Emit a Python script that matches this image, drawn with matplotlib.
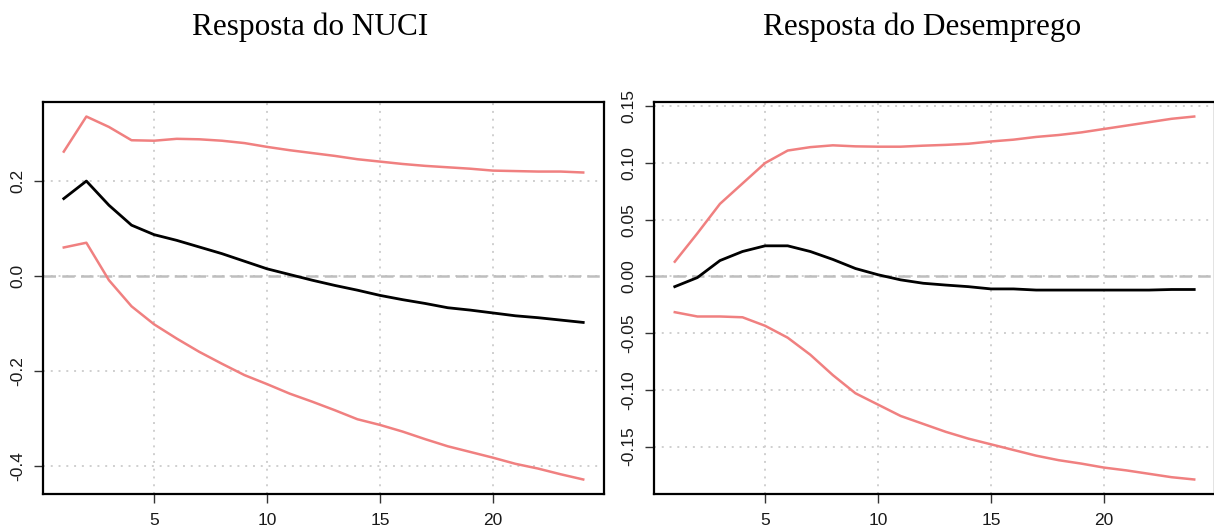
import numpy
import matplotlib
matplotlib.use("Agg")
import matplotlib.pyplot as plt

# horizonte (meses)
steps = numpy.arange(1, 25)

# resposta do NUCI
nuci_irf = [0.163, 0.200, 0.149, 0.107, 0.087, 0.075, 0.061, 0.047, 0.031, 0.015,
            0.003, -0.009, -0.020, -0.030, -0.041, -0.050, -0.058, -0.067, -0.072, -0.078,
            -0.084, -0.088, -0.093, -0.098]
nuci_upper = [0.262, 0.336, 0.314, 0.286, 0.285, 0.289, 0.288, 0.285, 0.280, 0.272,
              0.265, 0.259, 0.253, 0.246, 0.241, 0.236, 0.232, 0.229, 0.226, 0.222,
              0.221, 0.220, 0.220, 0.218]
nuci_lower = [0.060, 0.070, -0.009, -0.064, -0.102, -0.132, -0.160, -0.185, -0.209, -0.228,
              -0.248, -0.265, -0.283, -0.302, -0.314, -0.328, -0.344, -0.359, -0.371, -0.383,
              -0.396, -0.406, -0.418, -0.429]

# resposta do desemprego
desemp_irf = [-0.009, -0.001, 0.014, 0.022, 0.027, 0.027, 0.022, 0.015, 0.007, 0.0015,
              -0.003, -0.006, -0.0076, -0.009, -0.011, -0.011, -0.012, -0.012, -0.012, -0.012,
              -0.012, -0.012, -0.0115, -0.0115]
desemp_upper = [0.013, 0.038, 0.064, 0.082, 0.100, 0.111, 0.114, 0.1156, 0.1147, 0.1144,
                0.1144, 0.1153, 0.116, 0.117, 0.119, 0.1206, 0.123, 0.1247, 0.127, 0.130,
                0.133, 0.136, 0.139, 0.141]
desemp_lower = [-0.0315, -0.0353, -0.0353, -0.036, -0.0435, -0.054, -0.069, -0.087, -0.103, -0.113,
                -0.123, -0.130, -0.137, -0.143, -0.148, -0.153, -0.158, -0.162, -0.165, -0.1685,
                -0.171, -0.174, -0.177, -0.179]

x_ticks = [5, 10, 15, 20]
nuci_yticks = [-0.4, -0.2, 0.0, 0.2]
nuci_ylabels = ["-0.4", "-0.2", "0.0", "0.2"]
desemp_yticks = [-0.15, -0.10, -0.05, 0.00, 0.05, 0.10, 0.15]
desemp_ylabels = ["-0.15", "-0.10", "-0.05", "0.00", "0.05", "0.10", "0.15"]

W, H = 1214, 532


def r_range(values):
    # mesma extensao de 4% que o R usa por padrao
    lo, hi = min(values), max(values)
    d = (hi - lo) * 0.04
    return lo - d, hi + d


def draw_panel(ax, irf, upper, lower, yticks, ylabels):
    ax.plot(steps, upper, color="#f08080", lw=1.8)
    ax.plot(steps, lower, color="#f08080", lw=1.8)
    ax.plot(steps, irf, color="black", lw=2.0)
    ax.axhline(y=0, color="#bebebe", lw=1.8, ls=(0, (5, 2.5)), zorder=1.5)

    ax.set_xlim(r_range(steps))
    ax.set_ylim(r_range(list(upper) + list(lower) + list(irf)))
    ax.set_xticks(x_ticks)
    ax.set_yticks(yticks)
    ax.set_yticklabels(ylabels, rotation=90, va="center")

    ax.grid(True, color="#cfcfcf", lw=1.4, ls=(0, (1, 3)))
    ax.set_axisbelow(True)
    ax.tick_params(direction="out", length=6.5, width=1.0, color="#333333",
                   labelsize=12.5, labelcolor="#1a1a1a")
    ax.tick_params(axis="x", pad=7)
    ax.tick_params(axis="y", pad=6)
    for s in ax.spines.values():
        s.set_linewidth(1.6)
        s.set_color("black")


if __name__ == '__main__':
    plt.rcParams['font.family'] = ['Liberation Sans', 'DejaVu Sans']
    fig = plt.figure(figsize=(W / 100, H / 100), dpi=100)

    ax1 = fig.add_axes([43 / W, (H - 494) / H, 561 / W, 392 / H])
    ax2 = fig.add_axes([654 / W, (H - 494) / H, 561 / W, 392 / H])

    draw_panel(ax1, nuci_irf, nuci_upper, nuci_lower, nuci_yticks, nuci_ylabels)
    draw_panel(ax2, desemp_irf, desemp_upper, desemp_lower, desemp_yticks, desemp_ylabels)

    fig.text(310 / W, 1 - 35 / H, "Resposta do NUCI", ha="center", va="baseline",
             family="Liberation Serif", fontsize=22.5)
    fig.text(922 / W, 1 - 35 / H, "Resposta do Desemprego", ha="center", va="baseline",
             family="Liberation Serif", fontsize=22.5)

    fig.savefig("out.png", dpi=100)
